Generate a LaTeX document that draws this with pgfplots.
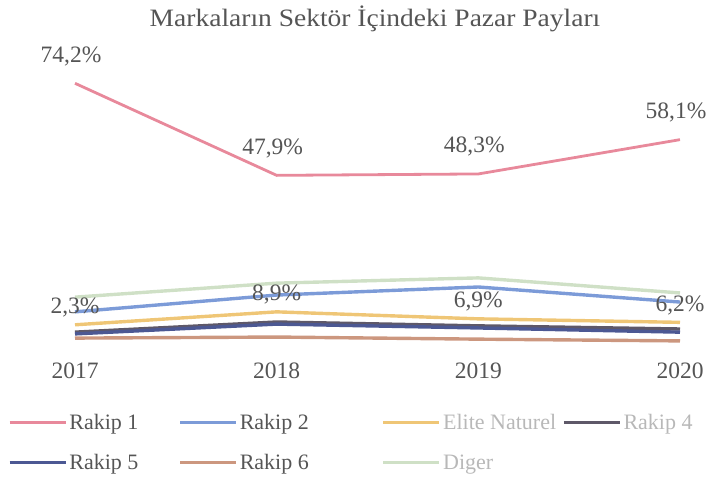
\documentclass[border=0pt]{standalone}
\usepackage{fontspec}
\setmainfont{Liberation Serif}
\usepackage{graphicx}
\usepackage{pgfplots}
\pgfplotsset{compat=1.18}
\definecolor{rk1}{HTML}{E8899B}
\definecolor{rk2}{HTML}{7C9BD8}
\definecolor{elite}{HTML}{EFC676}
\definecolor{rk4}{HTML}{5E5868}
\definecolor{rk5}{HTML}{4C5893}
\definecolor{rk6}{HTML}{CC977F}
\definecolor{diger}{HTML}{CFE0C6}
\definecolor{txt}{HTML}{555555}
\definecolor{faded}{HTML}{B8B8B8}
\newcommand{\lf}{\fontsize{22bp}{26bp}\selectfont}
\newcommand{\nf}{\fontsize{23.5bp}{28bp}\selectfont}
\begin{document}
\begin{tikzpicture}
\path[use as bounding box] (0bp,0bp) rectangle (709bp,478bp);
\node[font=\fontsize{25bp}{29bp}\selectfont, text=txt] at (375bp,459bp) {\scalebox{1.1}[1]{Markaların Sektör İçindeki Pazar Payları}};
\begin{axis}[
  at={(75bp,135bp)}, anchor=south west,
  width=605bp, height=280bp, scale only axis,
  xmin=2017, xmax=2020, ymin=0, ymax=80,
  clip=false,
  axis line style={draw=none},
  major tick length=0pt,
  ytick=\empty,
  xtick={2017,2018,2019,2020},
  xticklabels={2017,2018,2019,2020},
  xticklabel style={font=\nf, text=txt, yshift=-16bp},
  legend columns=4,
  legend cell align=left,
  legend style={at={(-0.116,-0.24)}, anchor=north west, draw=none, fill=none,
    font=\lf, text=txt, row sep=19bp},
  legend image code/.code={\draw[#1] (0bp,0bp) -- (56bp,0bp);},
  every axis plot/.append style={line width=3.4bp},
  nodes near coords style={font=\nf, text=txt, anchor=base},
]
\addplot[rk1, line width=2.8bp, point meta=explicit symbolic, nodes near coords, nodes near coords style={yshift=21bp, xshift=-4bp}]
  coordinates {(2017,74.2) [74,2\%] (2018,47.9) [47,9\%] (2019,48.3) [48,3\%] (2020,58.1) [58,1\%]};
\addlegendentry{\makebox[107bp][l]{Rakip 1}}
\addplot[rk2] coordinates {(2017,8.9) (2018,13.7) (2019,16.0) (2020,11.7)};
\addlegendentry{\makebox[140bp][l]{Rakip 2}}
\addplot[elite, point meta=explicit symbolic, nodes near coords, nodes near coords style={yshift=11bp}]
  coordinates {(2017,5.2) [2,3\%] (2018,8.9) [8,9\%] (2019,6.9) [6,9\%] (2020,5.9) [6,2\%]};
\addlegendentry{\makebox[117bp][l]{\textcolor{faded}{Elite Naturel}}}
\addplot[rk4] coordinates {(2017,3.1) (2018,6.0) (2019,4.9) (2020,4.0)};
\addlegendentry{\textcolor{faded}{Rakip 4}}
\addplot[rk5] coordinates {(2017,2.6) (2018,5.4) (2019,4.3) (2020,3.1)};
\addlegendentry{\makebox[107bp][l]{Rakip 5}}
\addplot[rk6] coordinates {(2017,1.4) (2018,1.7) (2019,1.1) (2020,0.6)};
\addlegendentry{\makebox[140bp][l]{Rakip 6}}
\addplot[diger] coordinates {(2017,13.1) (2018,17.1) (2019,18.6) (2020,14.3)};
\addlegendentry{\makebox[117bp][l]{\textcolor{faded}{Diger}}}
\end{axis}
\end{tikzpicture}
\end{document}
